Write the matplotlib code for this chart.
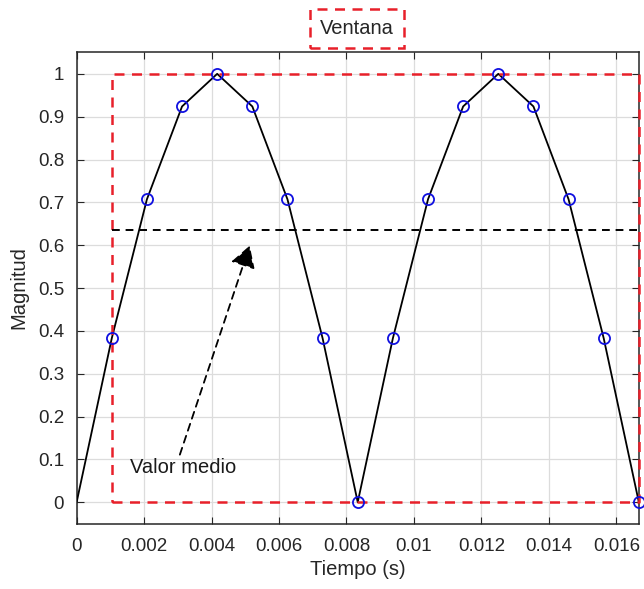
import matplotlib
matplotlib.use('Agg')
import matplotlib.pyplot as plt

# sampled rectified sine (one sample every 1/960 s)
tiempo = [0, 0.0010417, 0.0020833, 0.003125, 0.0041667, 0.0052083, 0.00625,
          0.0072917, 0.0083333, 0.009375, 0.0104167, 0.0114583, 0.0125,
          0.0135417, 0.0145833, 0.015625, 0.0166667]
magnitud = [0, 0.3827, 0.7071, 0.9239, 1.0, 0.9239, 0.7071, 0.3827, 0,
            0.3827, 0.7071, 0.9239, 1.0, 0.9239, 0.7071, 0.3827, 0]

# window and mean value
ventana_x = [0.0010417, 0.0166667]
ventana_y = [0, 1]
valor_medio = 0.6366

xticks = [0, 0.002, 0.004, 0.006, 0.008, 0.01, 0.012, 0.014, 0.016]
xtick_labels = ['0', '0.002', '0.004', '0.006', '0.008', '0.01', '0.012', '0.014', '0.016']
yticks = [0, 0.1, 0.2, 0.3, 0.4, 0.5, 0.6, 0.7, 0.8, 0.9, 1]
ytick_labels = ['0', '0.1', '0.2', '0.3', '0.4', '0.5', '0.6', '0.7', '0.8', '0.9', '1']

plt.rcParams['font.family'] = ['Liberation Sans', 'DejaVu Sans']
fs = 13.5

fig = plt.figure(figsize=(6.44, 5.89), dpi=100)
ax = fig.add_axes([0.119, 0.111, 0.873, 0.8])

# grid
ax.grid(True, color='#dcdcdc', linewidth=0.9)
ax.set_axisbelow(True)

# signal
ax.plot(tiempo, magnitud, color='black', linewidth=1.3, zorder=3)
ax.plot(tiempo[1:], magnitud[1:], linestyle='none', marker='o', markersize=8,
        markerfacecolor='none', markeredgecolor='#1010e0', markeredgewidth=1.3,
        zorder=5, clip_on=False)

# window rectangle
x0, x1 = ventana_x
y0, y1 = ventana_y
ax.plot([x0, x1, x1, x0, x0], [y0, y0, y1, y1, y0], color='#e8202a',
        linestyle=(0, (4, 3)), linewidth=1.8, zorder=4, clip_on=False)

# mean value line
ax.plot([x0, x1], [valor_medio, valor_medio], color='black',
        linestyle=(0, (4, 3)), linewidth=1.4, zorder=4)

# annotation
ax.annotate('', xy=(0.00513, 0.599), xytext=(0.00306, 0.111),
            arrowprops=dict(arrowstyle='-|>,head_length=0.6,head_width=0.35',
                            color='black', linestyle=(0, (4, 3)),
                            linewidth=1.3, mutation_scale=22, shrinkA=0, shrinkB=0))
ax.text(0.00158, 0.081, 'Valor medio', ha='left', va='center', fontsize=14.5,
        color='#1a1a1a')

ax.set_xlim(0, 0.0166667)
ax.set_ylim(-0.05, 1.05)
ax.set_xticks(xticks)
ax.set_xticklabels(xtick_labels)
ax.set_yticks(yticks)
ax.set_yticklabels(ytick_labels)
ax.tick_params(direction='in', top=True, right=True, length=5, labelsize=fs,
               colors='#262626')
ax.tick_params(axis='x', pad=10)
ax.tick_params(axis='y', pad=9)
for s in ax.spines.values():
    s.set_color('#262626')
    s.set_linewidth(1.1)

ax.set_xlabel('Tiempo (s)', fontsize=14.5, color='#262626', labelpad=4)
ax.set_ylabel('Magnitud', fontsize=14.5, color='#262626', labelpad=7)

# "Ventana" label box
fig.text(0.554, 0.952, 'Ventana', ha='center', va='center', fontsize=14.5,
         color='#262626',
         bbox=dict(boxstyle='square,pad=0.5', facecolor='white', edgecolor='#e8202a',
                   linestyle=(0, (4, 3)), linewidth=1.8))

fig.savefig('out.png', dpi=100)
